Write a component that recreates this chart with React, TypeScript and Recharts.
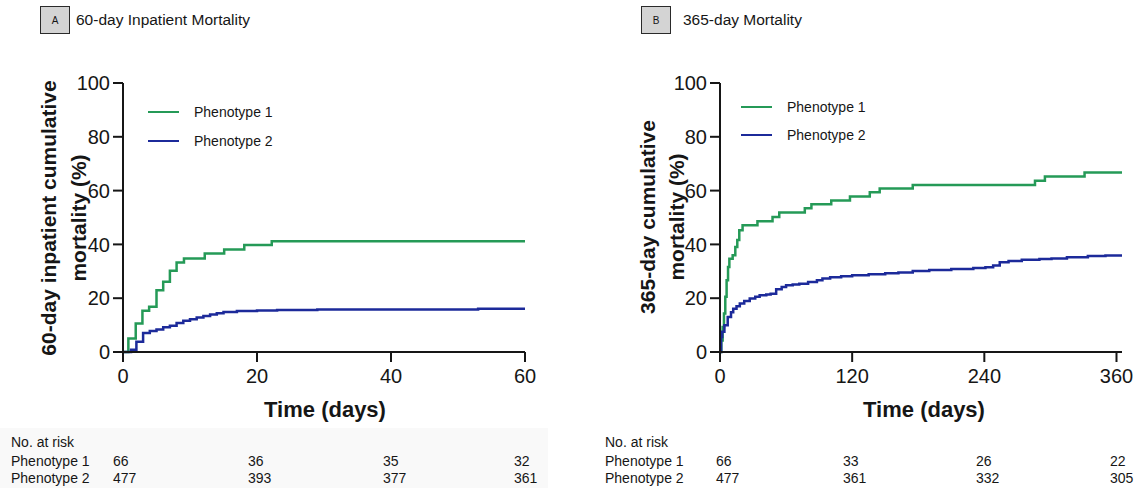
import { Line, LineChart, XAxis, YAxis } from "recharts";

const green = "#259a57";
const blue = "#1c2a9a";
const ink = "#161616";
const font = "'Liberation Sans', Arial, sans-serif";

// panel A: 60-day inpatient mortality (days, %)
const p1InpatientT = [0, 0.8, 1.9, 2.9, 3.9, 5, 6, 7, 8, 9.1, 12.2, 15.1, 18.1, 22.2, 60];
const p1InpatientY = [0, 5.0, 10.6, 15.3, 16.8, 23.0, 26.1, 30.2, 33.3, 34.8, 36.6, 38.1, 39.8, 41.2, 41.2];
const p2InpatientT = [0, 1.2, 2, 3, 4, 5, 6, 7, 8, 9, 10, 11, 12, 13, 14, 15, 17, 20, 23, 29, 53, 60];
const p2InpatientY = [0, 0.8, 3.8, 7.1, 7.8, 8.4, 9.2, 9.8, 10.8, 11.6, 12.2, 12.8, 13.4, 13.9, 14.4, 14.9, 15.2, 15.4, 15.6, 15.8, 16.1, 16.1];

// panel B: 365-day mortality (days, %)
const p1YearT = [0, 1.2, 2.4, 3.6, 4.8, 6, 7.3, 8.5, 11.5, 13.9, 15.7, 17.5, 20.5, 34, 47.7, 53.8, 77, 83, 101, 118, 136, 145, 175, 286, 295, 331, 365];
const p1YearY = [0, 4.3, 9.3, 14.3, 20.5, 26.7, 31.6, 34.7, 36.0, 39.0, 41.6, 45.3, 47.1, 48.6, 50.2, 51.9, 53.4, 54.9, 56.3, 57.8, 59.4, 60.8, 62.1, 63.7, 65.2, 66.7, 66.7];
const p2YearT = [0, 1, 2, 4, 7, 10, 12, 15, 18, 22, 27, 32, 36, 42, 46, 51, 56, 60, 66, 72, 80, 88, 93, 100, 110, 120, 135, 150, 162, 175, 190, 210, 230, 241, 248, 254, 262, 274, 290, 301, 315, 334, 350, 365];
const p2YearY = [0, 5.6, 7.5, 9.9, 13, 14.8, 16.1, 17, 18, 19, 19.9, 20.5, 21.1, 21.4, 21.7, 23.3, 24.2, 24.8, 25.1, 25.4, 26, 26.7, 27.3, 27.8, 28.2, 28.5, 28.9, 29.3, 29.6, 30.1, 30.5, 30.9, 31.2, 31.5, 32.2, 33.4, 33.8, 34.3, 34.6, 34.8, 35.2, 35.7, 35.9, 36.1];

const yTicks = [0, 20, 40, 60, 80, 100];
const inpatientTicks = [0, 20, 40, 60];
const yearTicks = [0, 120, 240, 360];

const seriesNames = ["Phenotype 1", "Phenotype 2"];
const inpatientRisk1 = ["66", "36", "35", "32"];
const inpatientRisk2 = ["477", "393", "377", "361"];
const yearRisk1 = ["66", "33", "26", "22"];
const yearRisk2 = ["477", "361", "332", "305"];

const zip = (t: number[], y: number[]) => t.map((d, i) => ({ t: d, y: y[i] }));

type PanelProps = {
  left: number;
  width: number;
  marginLeft: number;
  marginRight: number;
  maxT: number;
  xTicks: number[];
  s1: { t: number; y: number }[];
  s2: { t: number; y: number }[];
};

function Panel(p: PanelProps) {
  const tickStyle = { fill: ink, fontSize: 20, fontFamily: font };
  const axisLine = { stroke: ink, strokeWidth: 2 };
  return (
    <div style={{ position: "absolute", left: p.left, top: 0 }}>
      <LineChart width={p.width} height={420} margin={{ top: 83, right: p.marginRight, bottom: 38, left: p.marginLeft }}>
        <XAxis
          type="number"
          dataKey="t"
          domain={[0, p.maxT]}
          ticks={p.xTicks}
          allowDataOverflow
          axisLine={axisLine}
          tickLine={axisLine}
          tickSize={10}
          tickMargin={7}
          tick={tickStyle}
          height={30}
        />
        <YAxis
          type="number"
          domain={[0, 100]}
          ticks={yTicks}
          axisLine={axisLine}
          tickLine={axisLine}
          tickSize={10}
          tickMargin={3}
          tick={tickStyle}
          width={60}
        />
        <Line data={p.s1} dataKey="y" type="stepAfter" stroke={green} strokeWidth={2.5} dot={false} isAnimationActive={false} />
        <Line data={p.s2} dataKey="y" type="stepAfter" stroke={blue} strokeWidth={2.5} dot={false} isAnimationActive={false} />
      </LineChart>
    </div>
  );
}

function Abs({ x, y, size = 14, bold = false, children }: { x: number; y: number; size?: number; bold?: boolean; children: any }) {
  return (
    <div style={{ position: "absolute", left: x, top: y, fontSize: size, fontWeight: bold ? 700 : 400, whiteSpace: "nowrap", lineHeight: 1, transform: "translateY(-50%)" }}>
      {children}
    </div>
  );
}

function Rotated({ x, y, children }: { x: number; y: number; children: any }) {
  return (
    <div style={{ position: "absolute", left: x, top: y, width: 0, height: 0 }}>
      <div style={{ position: "absolute", left: 0, top: 0, fontSize: 21, fontWeight: 700, whiteSpace: "nowrap", lineHeight: 1, transform: "translate(-50%, -50%) rotate(-90deg)" }}>
        {children}
      </div>
    </div>
  );
}

function TitleBox({ x, gap, letter, title }: { x: number; gap: number; letter: string; title: string }) {
  return (
    <>
      <div style={{ position: "absolute", left: x, top: 6, width: 28, height: 26, background: "#d4d4d4", border: "1.5px solid #2a2a2a", fontSize: 10, display: "flex", alignItems: "center", justifyContent: "center" }}>
        {letter}
      </div>
      <Abs x={x + 31 + gap} y={20} size={15.5}>{title}</Abs>
    </>
  );
}

function LegendBox({ x, y, gap }: { x: number; y: number; gap: number }) {
  return (
    <>
      {seriesNames.map((name, i) => (
        <div key={name}>
          <div style={{ position: "absolute", left: x, top: y + i * gap - 1.25, width: 31, height: 2.5, background: i === 0 ? green : blue }} />
          <Abs x={x + 46} y={y + i * gap}>{name}</Abs>
        </div>
      ))}
    </>
  );
}

function RiskTable({ x, cols, r1, r2 }: { x: number; cols: number[]; r1: string[]; r2: string[] }) {
  return (
    <>
      <Abs x={x} y={442}>No. at risk</Abs>
      <Abs x={x} y={461}>{seriesNames[0]}</Abs>
      <Abs x={x} y={478}>{seriesNames[1]}</Abs>
      {cols.map((c, i) => (
        <div key={c}>
          <Abs x={c} y={461}>{r1[i]}</Abs>
          <Abs x={c} y={478}>{r2[i]}</Abs>
        </div>
      ))}
    </>
  );
}

export default function App() {
  return (
    <div style={{ position: "absolute", left: 0, top: 0, width: 1147, height: 492, background: "#fff", fontFamily: font, color: ink, overflow: "hidden" }}>
      <div style={{ position: "absolute", left: 0, top: 428, width: 548, height: 60, background: "#f9f9f9" }} />
      <TitleBox x={40} gap={5} letter="A" title="60-day Inpatient Mortality" />
      <TitleBox x={641} gap={11} letter="B" title="365-day Mortality" />

      <Panel left={0} width={560} marginLeft={63} marginRight={35} maxT={60} xTicks={inpatientTicks} s1={zip(p1InpatientT, p1InpatientY)} s2={zip(p2InpatientT, p2InpatientY)} />
      <Panel left={580} width={567} marginLeft={80} marginRight={25} maxT={365} xTicks={yearTicks} s1={zip(p1YearT, p1YearY)} s2={zip(p2YearT, p2YearY)} />

      <Rotated x={48} y={218}>60-day inpatient cumulative</Rotated>
      <Rotated x={78} y={218}>mortality (%)</Rotated>
      <Rotated x={647} y={217}>365-day cumulative</Rotated>
      <Rotated x={676} y={217}>mortality (%)</Rotated>

      <div style={{ position: "absolute", left: 325, top: 410, transform: "translate(-50%, -50%)", fontSize: 22, fontWeight: 700, whiteSpace: "nowrap" }}>Time (days)</div>
      <div style={{ position: "absolute", left: 924, top: 410, transform: "translate(-50%, -50%)", fontSize: 22, fontWeight: 700, whiteSpace: "nowrap" }}>Time (days)</div>

      <LegendBox x={148} y={112} gap={29} />
      <LegendBox x={741} y={107} gap={28} />

      <RiskTable x={11} cols={[113, 248, 383, 514]} r1={inpatientRisk1} r2={inpatientRisk2} />
      <RiskTable x={605} cols={[716, 843, 976, 1110]} r1={yearRisk1} r2={yearRisk2} />
    </div>
  );
}
